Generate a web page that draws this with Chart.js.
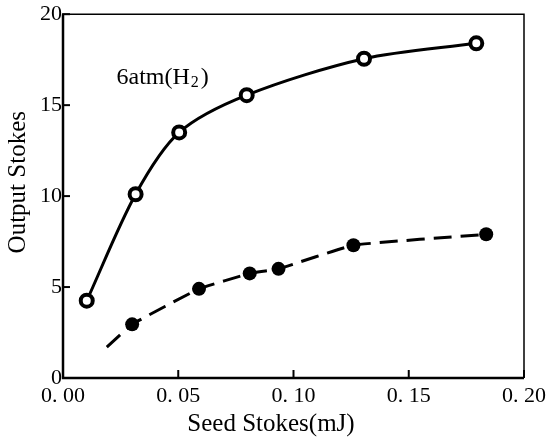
<!DOCTYPE html>
<html>
<head>
<meta charset="utf-8">
<script src="https://cdn.jsdelivr.net/npm/chart.js@4/dist/chart.umd.min.js"></script>
<style>
  html, body { margin: 0; padding: 0; background: #fff; }
  #wrap { width: 551px; height: 440px; }
</style>
</head>
<body>
<div id="wrap"><canvas id="myChart" width="551" height="440"></canvas></div>
<script>
/* datos */
const seedOpen = [0.0103, 0.0315, 0.0504, 0.0797, 0.1306, 0.1793];
const outputOpen = [4.25, 10.1, 13.5, 15.55, 17.55, 18.4];

// el primer punto es solo el inicio de la linea discontinua (sin marcador)
const seedFilled = [0.019, 0.030, 0.059, 0.081, 0.0935, 0.126, 0.1836];
const outputFilled = [1.7, 2.95, 4.9, 5.75, 6.0, 7.3, 7.9];

const xTicks = [0, 0.05, 0.10, 0.15, 0.20];
const yTicks = [0, 5, 10, 15, 20];
const label6atm = '6atm(H';
const xTitle = 'Seed Stokes(mJ)';
const yTitle = 'Output Stokes';

const serif = '"Liberation Serif", "DejaVu Serif", serif';

function toPoints(xs, ys) {
  return xs.map((x, i) => ({ x: x, y: ys[i] }));
}

/* marco, marcas interiores y textos */
const framePlugin = {
  id: 'frame',
  afterDraw(chart) {
    const c = chart.ctx;
    const a = chart.chartArea;
    const xs = chart.scales.x;
    const ys = chart.scales.y;
    c.save();
    c.strokeStyle = '#000';
    c.lineWidth = 1.5;
    c.beginPath();
    c.moveTo(a.left, a.top);
    c.lineTo(a.right, a.top);
    c.lineTo(a.right, a.bottom);
    c.stroke();
    c.lineWidth = 2.5;
    c.beginPath();
    c.moveTo(a.left, a.top);
    c.lineTo(a.left, a.bottom);
    c.lineTo(a.right, a.bottom);
    c.stroke();

    c.lineWidth = 2;
    xTicks.forEach(v => {
      const px = xs.getPixelForValue(v);
      c.beginPath();
      c.moveTo(px, a.bottom);
      c.lineTo(px, a.bottom - 8);
      c.stroke();
    });
    yTicks.forEach(v => {
      const py = ys.getPixelForValue(v);
      c.beginPath();
      c.moveTo(a.left - 1, py);
      c.lineTo(a.left + 7, py);
      c.stroke();
    });

    c.fillStyle = '#000';
    c.textBaseline = 'middle';

    // titulos de ejes
    c.textAlign = 'center';
    c.font = '25px ' + serif;
    c.fillText(xTitle, a.left + 208, a.bottom + 46);
    c.save();
    c.translate(18, a.top + 168);
    c.rotate(-Math.PI / 2);
    c.fillText(yTitle, 0, 0);
    c.restore();

    // etiqueta 6atm(H2)
    c.textAlign = 'left';
    let tx = xs.getPixelForValue(0.0232);
    const ty = ys.getPixelForValue(16.5);
    c.font = '24px ' + serif;
    c.fillText(label6atm, tx, ty);
    tx += c.measureText(label6atm).width + 1;
    c.font = '16px ' + serif;
    c.fillText('2', tx, ty + 5);
    tx += c.measureText('2').width + 2;
    c.font = '24px ' + serif;
    c.fillText(')', tx, ty);
    c.restore();
  }
};

const ctx = document.getElementById('myChart').getContext('2d');

let chart = new Chart(ctx, {
  type: 'scatter',
  data: {
    datasets: [
      {
        label: 'open',
        data: toPoints(seedOpen, outputOpen),
        showLine: true,
        borderColor: '#000',
        borderWidth: 3,
        tension: 0.3,
        pointRadius: 6,
        pointBorderWidth: 4,
        pointBackgroundColor: '#fff',
        pointBorderColor: '#000'
      },
      {
        label: 'filled',
        data: toPoints(seedFilled, outputFilled),
        showLine: true,
        borderColor: '#000',
        borderWidth: 3,
        borderDash: [18, 9],
        tension: 0.1,
        pointRadius: seedFilled.map((v, i) => i === 0 ? 0 : 7),
        pointBorderWidth: 0,
        pointBackgroundColor: '#000',
        pointBorderColor: '#000'
      }
    ]
  },
  options: {
    responsive: false,
    animation: false,
    layout: { padding: { top: 11, right: 24, left: 0, bottom: 0 } },
    plugins: {
      legend: { display: false },
      tooltip: { enabled: false }
    },
    scales: {
      x: {
        type: 'linear',
        min: 0,
        max: 0.2,
        afterFit(scale) { scale.height = 62; },
        afterBuildTicks(scale) { scale.ticks = xTicks.map(v => ({ value: v })); },
        grid: { display: false, drawTicks: false },
        border: { display: false },
        ticks: {
          color: '#000',
          padding: 5,
          maxRotation: 0,
          font: { family: serif, size: 22 },
          callback: v => v.toFixed(2).replace('.', '. ')
        }
      },
      y: {
        type: 'linear',
        min: 0,
        max: 20,
        afterFit(scale) { scale.width = 63; },
        afterBuildTicks(scale) { scale.ticks = yTicks.map(v => ({ value: v })); },
        grid: { display: false, drawTicks: false },
        border: { display: false },
        ticks: {
          color: '#000',
          padding: 1,
          font: { family: serif, size: 22 }
        }
      }
    }
  },
  plugins: [framePlugin]
});
</script>
</body>
</html>
